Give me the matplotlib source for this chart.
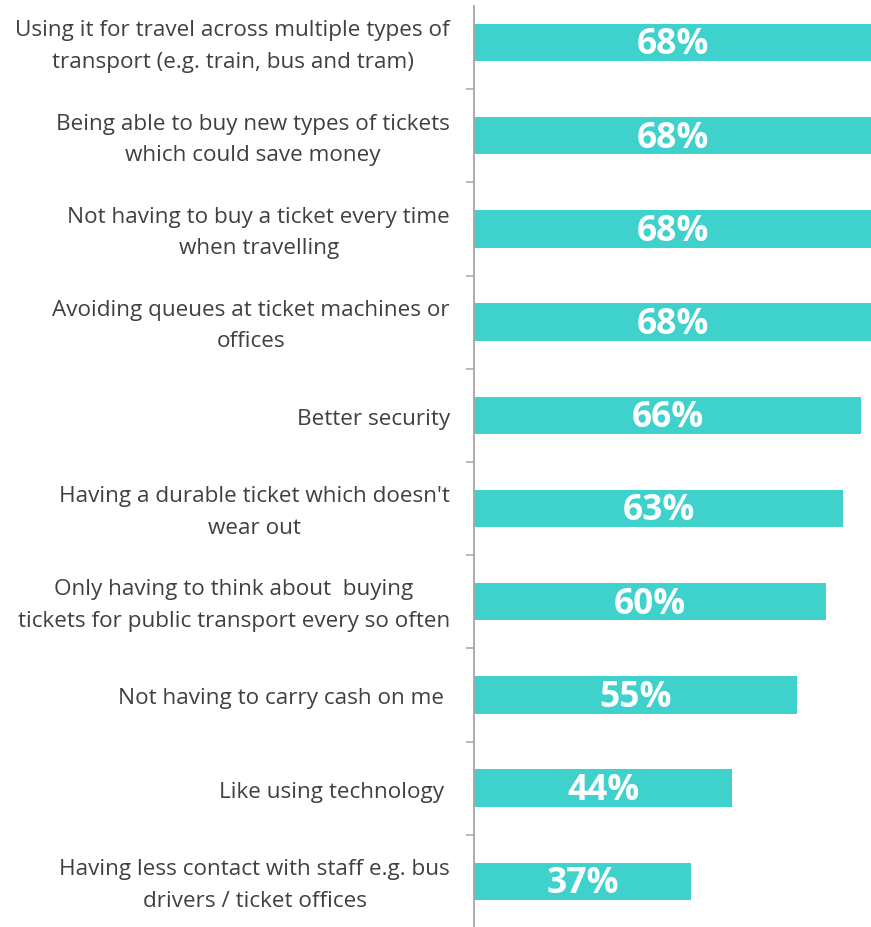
import matplotlib
matplotlib.use("Agg")
import matplotlib.pyplot as plt
from matplotlib.ticker import FixedLocator
import matplotlib.transforms as mtransforms

categories = [
    "Using it for travel across multiple types of\ntransport (e.g. train, bus and tram)",
    "Being able to buy new types of tickets\nwhich could save money",
    "Not having to buy a ticket every time\nwhen travelling",
    "Avoiding queues at ticket machines or\noffices",
    "Better security",
    "Having a durable ticket which doesn't\nwear out",
    "Only having to think about  buying\ntickets for public transport every so often",
    "Not having to carry cash on me ",
    "Like using technology ",
    "Having less contact with staff e.g. bus\ndrivers / ticket offices",
]
values = [68, 68, 68, 68, 66, 63, 60, 55, 44, 37]
value_labels = ["68%", "68%", "68%", "68%", "66%", "63%", "60%", "55%", "44%", "37%"]

BAR = "#3fd1cb"
TXT = "#404040"
AX = "#a6a6a6"

W, H = 871, 928
fig = plt.figure(figsize=(W / 100, H / 100), dpi=100)
left, right = 474 / W, 1.0
top_px, bot_px = 7, 928
ax = fig.add_axes([left, 1 - bot_px / H, right - left, (bot_px - top_px) / H])

ypos = list(range(len(categories)))
ax.barh(ypos, values, height=0.40, color=BAR)

ax.set_xlim(0, 67.7)
c0, step = 43.5, 93.2
ax.set_ylim((bot_px - c0) / step, (top_px - c0) / step)

for y, v, lab in zip(ypos, values, value_labels):
    ax.text(v / 2, y + 0.02, lab, ha="center", va="center", color="white",
            fontsize=25.5, fontweight="bold", family="Open Sans")

for s in ["top", "right", "bottom"]:
    ax.spines[s].set_visible(False)
ax.spines["left"].set_color(AX)
ax.spines["left"].set_linewidth(1.3)
ax.set_xticks([])

ax.yaxis.set_major_locator(FixedLocator([i + 0.5 for i in range(len(categories) - 1)]))
ax.set_yticklabels([])
ax.tick_params(axis="y", which="major", length=6, width=1.1, color=AX, direction="out")

trans = mtransforms.blended_transform_factory(ax.transAxes, ax.transData)
offset = mtransforms.ScaledTranslation(-24 / 100, -3 / 100, fig.dpi_scale_trans)
for y, c in zip(ypos, categories):
    ax.text(0, y, c, transform=trans + offset, ha="right", va="center",
            multialignment="center", color=TXT, fontsize=16.2,
            family="Open Sans", linespacing=1.65)

fig.savefig("out.png", dpi=100)
